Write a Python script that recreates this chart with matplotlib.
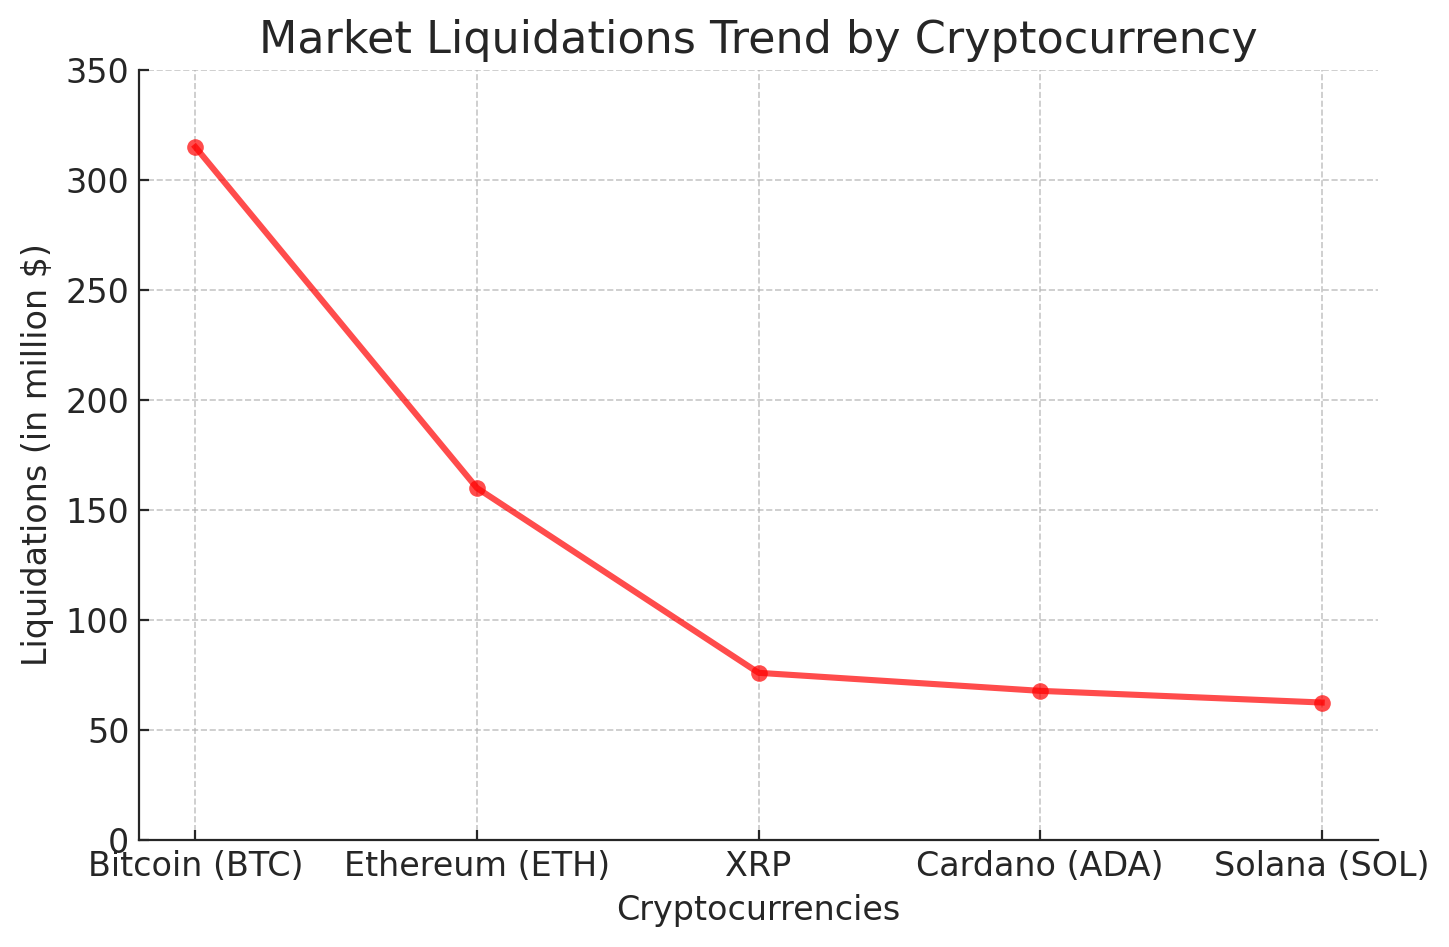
import matplotlib
matplotlib.use("Agg")
import matplotlib.pyplot as plt

cryptos = ["Bitcoin (BTC)", "Ethereum (ETH)", "XRP", "Cardano (ADA)", "Solana (SOL)"]
liquidations = [315, 160, 76, 67.8, 62.5]

fig, ax = plt.subplots(figsize=(7.245, 4.735), dpi=200)
ax.plot(cryptos, liquidations, color="red", marker="o", linewidth=2.2,
        markersize=6, markeredgewidth=0, alpha=0.7)
ax.set_title("Market Liquidations Trend by Cryptocurrency", fontsize=16, color="#262626")
ax.set_xlabel("Cryptocurrencies", fontsize=12, color="#262626")
ax.set_ylabel("Liquidations (in million $)", fontsize=12, color="#262626")
ax.set_ylim(0, 350)
ax.tick_params(labelsize=12, colors="#262626", direction="in")
ax.grid(True, linestyle="--", color="#b0b0b0", alpha=0.7, linewidth=0.6)
for s in ["top", "right"]:
    ax.spines[s].set_visible(False)
for s in ["left", "bottom"]:
    ax.spines[s].set_color("#262626")
fig.subplots_adjust(left=0.096, right=0.951, top=0.926, bottom=0.113)
fig.savefig("out.png", dpi=200)
